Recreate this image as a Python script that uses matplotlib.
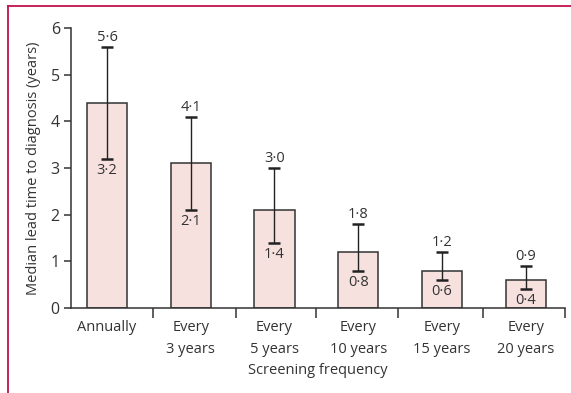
import matplotlib.pyplot as plt
from matplotlib.lines import Line2D
from matplotlib.ticker import FixedLocator

plt.rcParams['font.family'] = ['Open Sans', 'DejaVu Sans']
plt.rcParams['font.size'] = 10.5

# Median lead time and interval bounds per screening frequency
categorias = ["Annually", "Every\n3 years", "Every\n5 years", "Every\n10 years",
              "Every\n15 years", "Every\n20 years"]
mediana = [4.4, 3.1, 2.1, 1.2, 0.8, 0.6]
superior = [5.6, 4.1, 3.0, 1.8, 1.2, 0.9]
inferior = [3.2, 2.1, 1.4, 0.8, 0.6, 0.4]


def fmt(v):
    return f"{v:.1f}".replace(".", "\u00b7")


fig = plt.figure(figsize=(5.71, 3.93), dpi=100)
ax = fig.add_axes([0.1243, 0.2163, 0.8652, 0.7125])

x = list(range(len(categorias)))
ax.bar(x, mediana, width=0.48, color="#f6e1df", edgecolor="#333333", linewidth=1.1, zorder=2)

err_bajo = [m - lo for m, lo in zip(mediana, inferior)]
err_alto = [hi - m for m, hi in zip(mediana, superior)]
ax.errorbar(x, mediana, yerr=[err_bajo, err_alto], fmt="none", ecolor="#222222",
            elinewidth=1.0, capsize=4, capthick=1.8, zorder=3)

for xi, hi, lo in zip(x, superior, inferior):
    ax.annotate(fmt(hi), (xi, hi), xytext=(0, 1.5), textcoords="offset points",
                ha="center", va="bottom", color="#333333")
    ax.annotate(fmt(lo), (xi, lo), xytext=(0, -3), textcoords="offset points",
                ha="center", va="top", color="#333333")

ax.set_xlim(-0.43, 5.47)
ax.set_ylim(0, 6)
ax.set_yticks(range(7))

ax.set_xticks(x)
ax.set_xticklabels(categorias, linespacing=1.6)
ax.tick_params(axis="x", which="major", length=0, pad=9, colors="#333333")
ax.xaxis.set_minor_locator(FixedLocator([0.55, 1.54, 2.5, 3.48, 4.49, 5.47]))
ax.tick_params(axis="x", which="minor", length=7, width=1.1, color="#333333")
ax.tick_params(axis="y", length=5, width=1.1, colors="#333333", labelsize=11.5, pad=3)

for lado in ("top", "right"):
    ax.spines[lado].set_visible(False)
for lado in ("left", "bottom"):
    ax.spines[lado].set_linewidth(1.1)
    ax.spines[lado].set_color("#333333")

ax.set_xlabel("Screening frequency", color="#333333", labelpad=4)
ax.set_ylabel("Median lead time to diagnosis (years)", color="#333333", labelpad=7)

# page frame lines
fig.add_artist(Line2D([8 / 571, 1], [1 - 6 / 393, 1 - 6 / 393], color="#c2124e", linewidth=1.3))
fig.add_artist(Line2D([8 / 571, 8 / 571], [0, 1 - 6 / 393], color="#c2124e", linewidth=1.3))

fig.savefig("out.png", dpi=100)
